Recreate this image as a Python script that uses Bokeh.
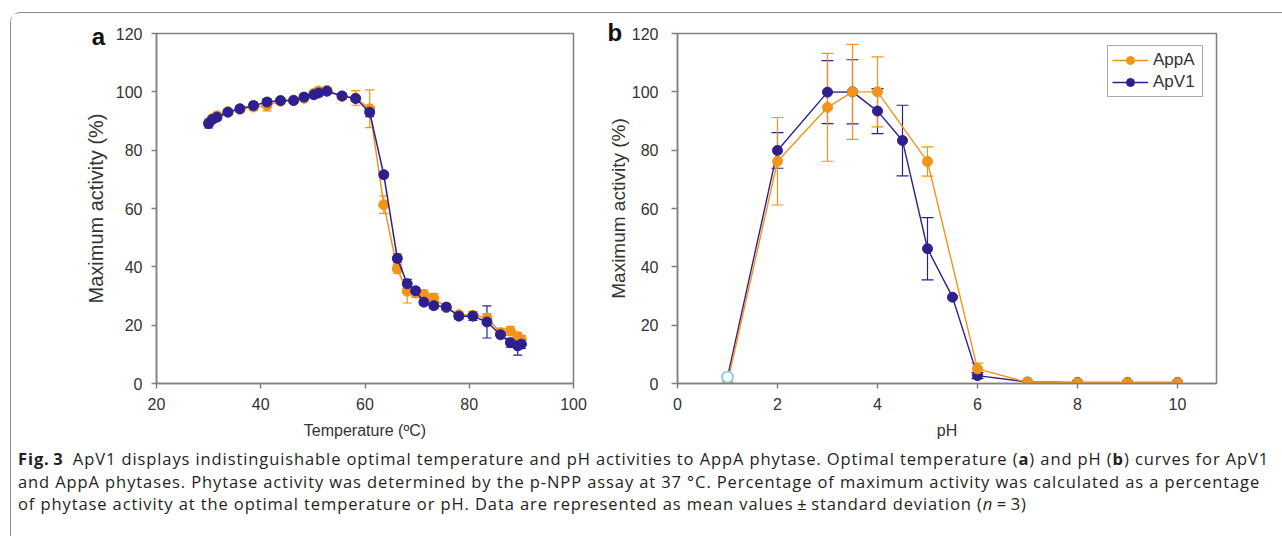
from bokeh.plotting import figure
from bokeh.models import (ColumnDataSource, Whisker, TeeHead, Label, Legend, LegendItem,
                          Div, Range1d, FixedTicker)
from bokeh.layouts import column, row
from bokeh.embed import file_html
from bokeh.resources import INLINE

# ---------------- data: panel a (temperature) ----------------
temp_c = [30.0, 30.7, 31.6, 33.7, 36.0, 38.6, 41.2, 43.8, 46.3, 48.3, 50.2, 51.1, 52.7,
          55.6, 58.2, 60.9, 63.6, 66.2, 68.1, 69.7, 71.3, 73.2, 75.6, 78.0, 80.7, 83.4,
          86.0, 87.9, 89.3, 90.0]
appa_temp = [89.5, 90.8, 91.8, 93.2, 94.0, 94.8, 95.3, 96.8, 97.2, 97.8, 99.5, 100.3, 100.5,
             98.4, 97.9, 94.2, 61.3, 39.3, 31.6, 31.0, 30.5, 29.3, 26.0, 23.6, 23.4, 22.5,
             17.4, 18.0, 16.0, 15.0]
appa_temp_sd = [1.2, 1.0, 1.0, 1.0, 1.0, 1.2, 1.8, 1.0, 1.0, 1.0, 1.0, 1.0, 1.0,
                1.0, 2.5, 6.5, 3.0, 1.5, 4.0, 1.5, 1.5, 1.5, 1.0, 1.0, 1.0, 1.5,
                1.5, 1.5, 1.5, 1.5]
apv1_temp = [89.1, 90.5, 91.3, 93.0, 94.2, 95.3, 96.5, 97.0, 97.0, 98.2, 99.0, 99.6, 100.2,
             98.6, 97.7, 93.0, 71.6, 42.9, 34.2, 31.8, 27.9, 26.7, 26.2, 23.1, 23.1, 21.1,
             16.7, 14.0, 12.9, 13.5]
apv1_temp_sd = [1.5, 1.0, 1.0, 1.0, 1.0, 1.2, 1.2, 1.0, 1.0, 1.0, 1.0, 1.0, 1.0,
                1.0, 1.0, 1.5, 1.0, 1.5, 1.5, 1.0, 1.0, 1.0, 1.0, 1.0, 1.5, 5.5,
                1.0, 1.5, 3.2, 1.5]

# ---------------- data: panel b (pH) ----------------
ph_appa = [1, 2, 3, 3.5, 4, 5, 6, 7, 8, 9, 10]
appa_ph = [0.3, 76.2, 94.7, 100.0, 100.0, 76.1, 5.0, 0.4, 0.3, 0.3, 0.3]
appa_ph_sd = [0, 15.0, 18.5, 16.3, 12.0, 5.0, 2.0, 0, 0, 0, 0]
ph_apv1 = [1, 2, 3, 3.5, 4, 4.5, 5, 5.5, 6, 7, 8, 9, 10]
apv1_ph = [2.2, 79.9, 99.9, 100.0, 93.4, 83.3, 46.2, 29.6, 2.7, 0.5, 0.4, 0.4, 0.4]
apv1_ph_sd = [0, 6.1, 10.8, 11.0, 7.7, 12.1, 10.7, 0, 1.0, 0, 0, 0, 0]

series_names = ["AppA", "ApV1"]
panel_letters = ["a", "b"]
temp_ticks = [20, 40, 60, 80, 100]
ph_ticks = [0, 2, 4, 6, 8, 10]
y_ticks = [0, 20, 40, 60, 80, 100, 120]

caption_lines = [
    "<b>Fig.&#8201;3</b>&ensp;ApV1 displays indistinguishable optimal temperature and pH activities to AppA phytase. "
    "Optimal temperature (<b>a</b>) and pH (<b>b</b>) curves for ApV1",
    "and AppA phytases. Phytase activity was determined by the p-NPP assay at 37 °C. "
    "Percentage of maximum activity was calculated as a percentage",
    "of phytase activity at the optimal temperature or pH. Data are represented as mean values&#8201;±&#8201;"
    "standard deviation (<i>n</i>&#8201;=&#8201;3)",
]

ORANGE = "#F39419"
BLUE = "#2E1F91"
AXIS = "#808080"
TXT = "#333333"
FONT = "Liberation Sans"


def style(p, xticks, ylabel_size, ylab_standoff, ytick_out, ytick_standoff):
    p.grid.visible = False
    p.outline_line_color = AXIS
    p.outline_line_width = 1.5
    p.background_fill_color = "white"
    p.border_fill_color = "white"
    p.xaxis.ticker = FixedTicker(ticks=xticks)
    p.yaxis.ticker = FixedTicker(ticks=y_ticks)
    p.xaxis.minor_tick_line_color = None
    p.yaxis.minor_tick_line_color = None
    for ax in (p.xaxis, p.yaxis):
        ax.axis_line_color = AXIS
        ax.axis_line_width = 1.5
        ax.major_tick_line_color = AXIS
        ax.major_tick_line_width = 1.5
        ax.major_tick_in = 0
        ax.major_label_text_font = FONT
        ax.major_label_text_font_size = "16px"
        ax.major_label_text_color = TXT
        ax.axis_label_text_font = FONT
        ax.axis_label_text_font_style = "normal"
        ax.axis_label_text_color = TXT
    p.xaxis.major_tick_out = 5
    p.xaxis.major_label_standoff = 9
    p.xaxis.axis_label_text_font_size = "16px"
    p.xaxis.axis_label_standoff = 9
    p.yaxis.major_tick_out = ytick_out
    p.yaxis.major_label_standoff = ytick_standoff
    p.yaxis.axis_label_text_font_size = ylabel_size
    p.yaxis.axis_label_standoff = ylab_standoff


def add_err(p, x, y, sd, color, cap):
    xs = [a for a, s in zip(x, sd) if s > 0]
    lo = [b - s for b, s in zip(y, sd) if s > 0]
    hi = [b + s for b, s in zip(y, sd) if s > 0]
    src = ColumnDataSource(dict(base=xs, lower=lo, upper=hi))
    w = Whisker(base="base", lower="lower", upper="upper", source=src,
                line_color=color, line_width=1.2,
                upper_head=TeeHead(size=cap, line_color=color, line_width=1.2),
                lower_head=TeeHead(size=cap, line_color=color, line_width=1.2))
    p.add_layout(w)


def panel_letter(p, text, x, y):
    # placed in a side panel so that it is not clipped to the frame;
    # data units keep it anchored to the plot's own scales
    lab = Label(x=x, y=y, text=text, text_font=FONT, text_font_size="24px",
                text_font_style="bold", text_color="#111111",
                text_align="left", text_baseline="alphabetic")
    p.add_layout(lab, "right")


# ---------------- panel a ----------------
pa = figure(width=579, height=430, x_range=Range1d(20, 100), y_range=Range1d(0, 120),
            output_backend="svg", toolbar_location=None,
            min_border_left=145, min_border_right=17, min_border_top=17, min_border_bottom=60,
            x_axis_label="Temperature (ºC)", y_axis_label="Maximum activity (%)")
style(pa, temp_ticks, "20px", 6, 5, 9)

add_err(pa, temp_c, appa_temp, appa_temp_sd, ORANGE, 9)
pa.line(temp_c, appa_temp, line_color=ORANGE, line_width=1.5)
pa.scatter(temp_c, appa_temp, size=10, fill_color=ORANGE, line_color=ORANGE)
add_err(pa, temp_c, apv1_temp, apv1_temp_sd, BLUE, 9)
pa.line(temp_c, apv1_temp, line_color=BLUE, line_width=1.5)
pa.scatter(temp_c, apv1_temp, size=10, fill_color=BLUE, line_color=BLUE)
panel_letter(pa, panel_letters[0], 7.6, 119.0)

# ---------------- panel b ----------------
pb = figure(width=683, height=430, x_range=Range1d(0, 10.78), y_range=Range1d(0, 120),
            output_backend="svg", toolbar_location=None,
            min_border_left=87, min_border_right=57, min_border_top=20, min_border_bottom=60,
            x_axis_label="pH", y_axis_label="Maximum activity (%)")
style(pb, ph_ticks, "19px", 0, 6, 13)

add_err(pb, ph_apv1, apv1_ph, apv1_ph_sd, BLUE, 12)
lb = pb.line(ph_apv1, apv1_ph, line_color=BLUE, line_width=1.4)
sb = pb.scatter(ph_apv1, apv1_ph, size=10, fill_color=BLUE, line_color=BLUE)
add_err(pb, ph_appa, appa_ph, appa_ph_sd, ORANGE, 12)
lo_ = pb.line(ph_appa, appa_ph, line_color=ORANGE, line_width=1.4)
so = pb.scatter(ph_appa, appa_ph, size=10, fill_color=ORANGE, line_color=ORANGE)
# first ApV1 point (pH 1) drawn as an open marker
pb.scatter(ph_apv1[:1], apv1_ph[:1], size=11, fill_color="white", line_color="#86CFDA",
           line_width=1.8)

legend = Legend(items=[LegendItem(label=series_names[0], renderers=[lo_, so]),
                       LegendItem(label=series_names[1], renderers=[lb, sb])],
                location=(430, 286), padding=4, spacing=2, margin=0,
                glyph_width=36, glyph_height=20, label_standoff=5, label_width=45,
                label_height=20,
                label_text_font=FONT, label_text_font_size="17px", label_text_color=TXT,
                border_line_color="#555555", border_line_width=1,
                background_fill_color="white", background_fill_alpha=1.0)
pb.add_layout(legend)
panel_letter(pb, panel_letters[1], -1.4, 120.3)

# ---------------- caption ----------------
cap_html = ("<div style=\"font-family:'Open Sans';font-size:16.5px;line-height:22.5px;"
            "color:#231f20;white-space:nowrap;padding-left:2px;letter-spacing:0.9px\">"
            + "<br>".join(caption_lines) + "</div>")
cap = Div(text=cap_html, width=1262, height=84)

layout = column(row(pa, pb), cap, margin=(12, 0, 0, 10),
                styles={"border-left": "1px solid #8c8c8c", "border-top": "1px solid #8c8c8c",
                        "border-top-left-radius": "10px"})

open("out.html", "w").write(file_html(layout, INLINE))
